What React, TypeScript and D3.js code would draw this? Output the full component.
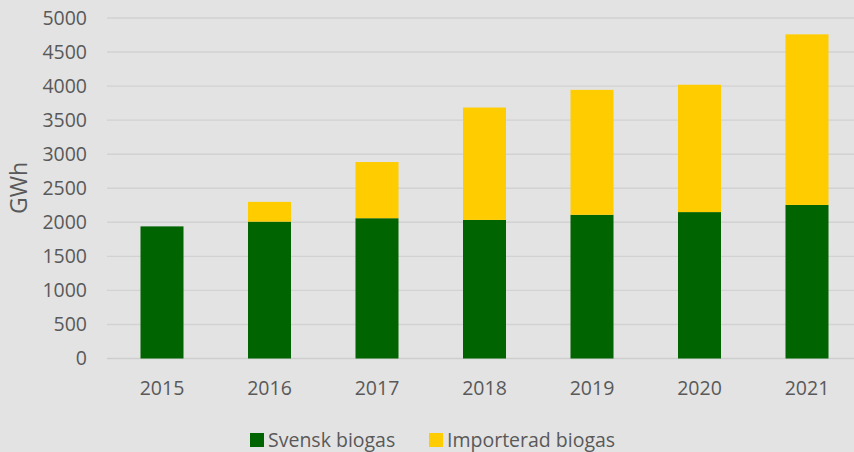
import * as d3 from "d3";

const years = ["2015", "2016", "2017", "2018", "2019", "2020", "2021"];
const svensk = [1940, 2010, 2060, 2035, 2110, 2150, 2255];
const importerad = [0, 290, 825, 1650, 1835, 1870, 2505];
const yTicks = [0, 500, 1000, 1500, 2000, 2500, 3000, 3500, 4000, 4500, 5000];

const W = 854;
const H = 452;
const GREEN = "#006400";
const YELLOW = "#ffcc00";
const TEXT = "#595959";
const FONT = "'Open Sans', sans-serif";

export default function App() {
  const x = d3.scaleBand<string>().domain(years).range([108.25, 860.75]).paddingInner(0.6).paddingOuter(0.3);
  const y = d3.scaleLinear().domain([0, 5000]).range([358.5, 18]);

  const rows = years.map((yr, i) => ({ year: yr, svensk: svensk[i], importerad: importerad[i] }));
  const stack = d3.stack<typeof rows[number]>().keys(["svensk", "importerad"]);
  const layers = stack(rows);
  const colors = [GREEN, YELLOW];

  return (
    <svg width={W} height={H} style={{ position: "absolute", left: 0, top: 0, background: "#e3e3e3" }}>
      <rect width={W} height={H} fill="#e3e3e3" />
      {yTicks.map((t) => (
        <g key={t}>
          <line x1={107} x2={W} y1={y(t)} y2={y(t)} stroke={t === 0 ? "#cdcdcd" : "#d2d2d2"} strokeWidth={t === 0 ? 1.5 : 1.4} />
          <text x={87} y={y(t)} dy="0.35em" textAnchor="end" fill={TEXT} style={{ fontSize: 19.5, fontFamily: FONT }}>
            {t}
          </text>
        </g>
      ))}
      <text
        transform={`translate(27,188) rotate(-90)`}
        textAnchor="middle"
        fill={TEXT}
        style={{ fontSize: 23, fontFamily: FONT }}
      >
        GWh
      </text>
      {layers.map((layer, li) =>
        layer.map((d) =>
          d[1] - d[0] > 0 ? (
            <rect
              key={`${li}-${d.data.year}`}
              x={x(d.data.year)}
              width={x.bandwidth()}
              y={y(d[1])}
              height={y(d[0]) - y(d[1])}
              fill={colors[li]}
            />
          ) : null
        )
      )}
      {years.map((yr) => (
        <text
          key={yr}
          x={(x(yr) ?? 0) + x.bandwidth() / 2}
          y={388}
          dy="0.35em"
          textAnchor="middle"
          fill={TEXT}
          style={{ fontSize: 19.5, fontFamily: FONT }}
        >
          {yr}
        </text>
      ))}
      <g style={{ fontSize: 19.5, fontFamily: FONT }} fill={TEXT}>
        <rect x={250} y={433} width={14} height={14} fill={GREEN} />
        <text x={268} y={440} dy="0.35em">Svensk biogas</text>
        <rect x={429} y={433} width={14} height={14} fill={YELLOW} />
        <text x={447} y={440} dy="0.35em">Importerad biogas</text>
      </g>
    </svg>
  );
}
